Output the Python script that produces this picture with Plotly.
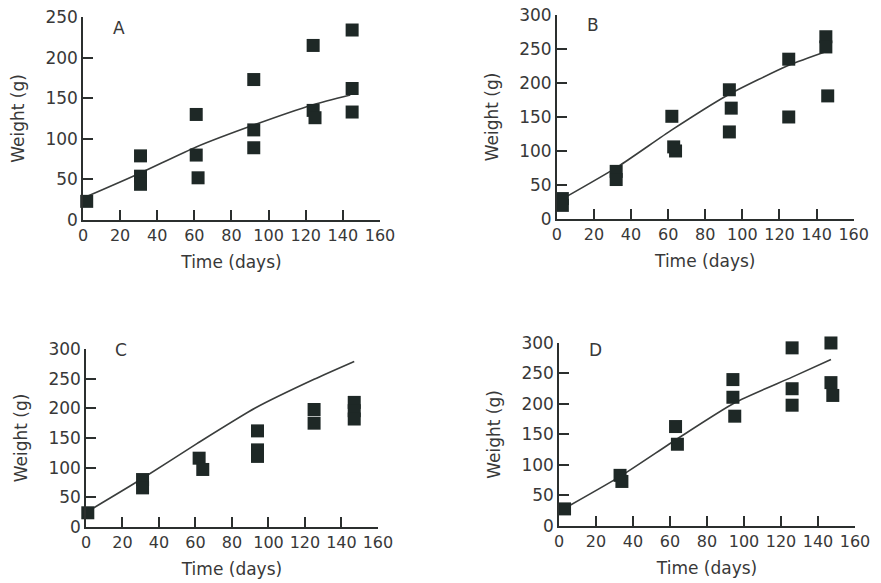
import plotly.graph_objects as go
from plotly.subplots import make_subplots

# Panel A
a_x = [2, 31, 31, 31, 61, 61, 62, 92, 92, 92, 124, 124, 125, 145, 145, 145]
a_y = [23, 79, 54, 44, 130, 80, 52, 173, 111, 89, 215, 135, 126, 234, 162, 133]
a_fit_x = [2, 31, 61, 92, 124, 144]
a_fit_y = [29, 58, 90, 117, 142, 154]

# Panel B
b_x = [3, 3, 32, 32, 62, 64, 63, 93, 94, 93, 125, 125, 145, 145, 146]
b_y = [30, 20, 70, 58, 151, 100, 106, 190, 163, 128, 235, 150, 268, 253, 181]
b_fit_x = [4, 33, 62, 92, 125, 146]
b_fit_y = [31, 77, 131, 182, 226, 247]

# Panel C
c_x = [1, 31, 31, 62, 64, 94, 94, 94, 125, 125, 147, 147, 147]
c_y = [24, 80, 66, 116, 97, 162, 130, 119, 198, 175, 210, 196, 182]
c_fit_x = [3, 30, 61, 93, 125, 147]
c_fit_y = [30, 80, 141, 201, 249, 279]

# Panel D
d_x = [3, 33, 34, 63, 64, 94, 94, 95, 126, 126, 126, 147, 147, 148]
d_y = [28, 83, 73, 163, 134, 240, 211, 180, 292, 225, 198, 300, 235, 214]
d_fit_x = [6, 34, 64, 95, 126, 147]
d_fit_y = [34, 83, 143, 202, 244, 273]

panels = [
    ("A", a_x, a_y, a_fit_x, a_fit_y, 250, 1, 1),
    ("B", b_x, b_y, b_fit_x, b_fit_y, 300, 1, 2),
    ("C", c_x, c_y, c_fit_x, c_fit_y, 300, 2, 1),
    ("D", d_x, d_y, d_fit_x, d_fit_y, 300, 2, 2),
]
label_pos = {"A": (15, 237), "B": (15, 285), "C": (15, 299), "D": (15, 289)}

x_ticks = [0, 20, 40, 60, 80, 100, 120, 140, 160]

fig = make_subplots(rows=2, cols=2)

ink = "#2b2f2e"
mark = "#1e2826"
txt = "#383838"
font = "DejaVu Sans"

for name, xs, ys, fx, fy, ymax, r, c in panels:
    fig.add_trace(go.Scatter(x=fx, y=fy, mode="lines",
                             line=dict(color="#3a3d3c", width=1.6, shape="spline", smoothing=0.6),
                             showlegend=False, hoverinfo="skip", cliponaxis=False), row=r, col=c)
    fig.add_trace(go.Scatter(x=xs, y=ys, mode="markers",
                             marker=dict(symbol="square", size=13, color=mark),
                             showlegend=False, cliponaxis=False), row=r, col=c)
    yt = list(range(0, ymax + 1, 50))
    fig.update_xaxes(range=[0, 160], tickvals=x_ticks, ticks="inside", ticklen=10,
                     tickwidth=1.5, tickcolor=ink, showline=True, linecolor=ink, linewidth=1.5,
                     showgrid=False, zeroline=False, automargin=False,
                     title=dict(text="Time (days)", font=dict(size=17, color=txt, family=font), standoff=12),
                     tickfont=dict(size=16, color=txt, family=font), row=r, col=c)
    fig.update_yaxes(range=[0, ymax], tickvals=yt, ticks="inside", ticklen=10,
                     tickwidth=1.5, tickcolor=ink, showline=True, linecolor=ink, linewidth=1.5,
                     showgrid=False, zeroline=False, automargin=False,
                     title=dict(text="Weight (g)", font=dict(size=17, color=txt, family=font), standoff=16),
                     tickfont=dict(size=17, color=txt, family=font), row=r, col=c)

xrefs = {"A": ("x", "y"), "B": ("x2", "y2"), "C": ("x3", "y3"), "D": ("x4", "y4")}
for name, (xr, yr) in xrefs.items():
    lx, ly = label_pos[name]
    fig.add_annotation(x=lx, y=ly, xref=xr, yref=yr, text=name, showarrow=False, xanchor="left",
                       font=dict(size=17, color=txt, family=font))

fig.update_layout(
    width=881, height=583, margin=dict(l=0, r=0, t=0, b=0),
    plot_bgcolor="white", paper_bgcolor="white",
    xaxis=dict(domain=[0.0942, 0.4313]), yaxis=dict(domain=[0.6226, 0.9708]),
    xaxis2=dict(domain=[0.632, 0.969]), yaxis2=dict(domain=[0.6244, 0.9743]),
    xaxis3=dict(domain=[0.0976, 0.429]), yaxis3=dict(domain=[0.096, 0.4014]),
    xaxis4=dict(domain=[0.6345, 0.9705]), yaxis4=dict(domain=[0.0978, 0.4117]),
)

fig.write_html("out.html", config={"displayModeBar": False},
               post_script="document.body.style.margin='0';document.body.style.overflow='hidden';")
